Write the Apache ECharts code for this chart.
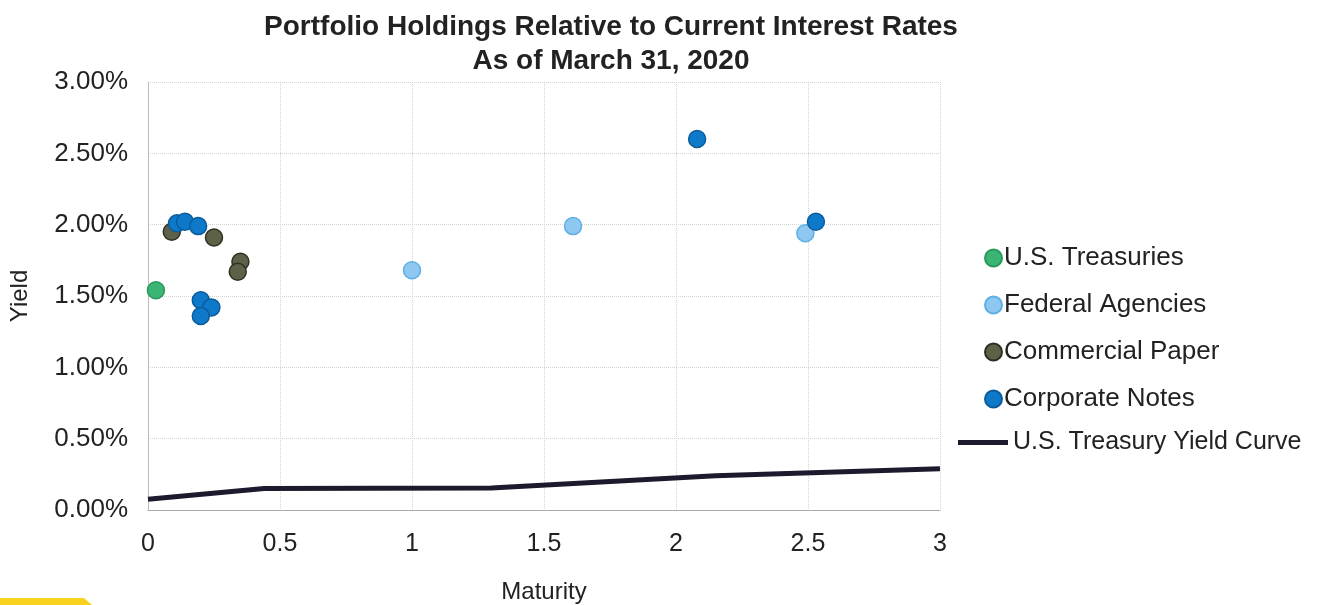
<!DOCTYPE html>
<html>
<head>
<meta charset="utf-8">
<script src="https://cdn.jsdelivr.net/npm/echarts@6/dist/echarts.min.js"></script>
<style>
  html, body { margin: 0; padding: 0; background: #fff; }
  #chart { width: 1321px; height: 605px; }
</style>
</head>
<body>
<div id="chart"></div>
<script>
// maturity (years), yield (%)
const treasuries = [[0.03, 1.54]]
const agencies = [[1.0, 1.68], [1.61, 1.99], [2.49, 1.94]]
const commercialPaper = [[0.09, 1.95], [0.25, 1.91], [0.35, 1.74], [0.34, 1.67]]
const corporateNotes = [
  [0.11, 2.01], [0.14, 2.02], [0.19, 1.99],
  [0.2, 1.47], [0.24, 1.42], [0.2, 1.36],
  [2.08, 2.6], [2.53, 2.02]
]
const yieldCurve = [[0, 0.075], [0.44, 0.15], [1.3, 0.155], [2.15, 0.24], [3, 0.29]]

const xTicks = [0, 0.5, 1, 1.5, 2, 2.5, 3]
const yTicks = [0, 0.5, 1, 1.5, 2, 2.5, 3]

const font = "Liberation Sans, Arial, sans-serif"
const chart = echarts.init(document.getElementById("chart"))

function dot(name, data, fill, border) {
  return {
    name: name,
    type: "scatter",
    data: data,
    symbol: "circle",
    symbolSize: 17,
    itemStyle: { color: fill, borderColor: border, borderWidth: 1.5, opacity: 1 },
    z: 3
  }
}

const option = {
  animation: false,
  title: {
    text: "Portfolio Holdings Relative to Current Interest Rates\nAs of March 31, 2020",
    left: 606,
    top: 5,
    textAlign: "center",
    textStyle: {
      fontFamily: "Liberation Sans Narrow, Arial Narrow, sans-serif",
      fontWeight: "bold",
      fontSize: 28,
      lineHeight: 34,
      color: "#222"
    }
  },
  grid: { left: 148, right: 381, top: 82, bottom: 95, outerBoundsMode: "none", containLabel: false },
  legend: [
    {
      orient: "vertical",
      left: 979,
      top: 240,
      itemWidth: 17,
      itemHeight: 17,
      itemGap: 21,
      data: ["U.S. Treasuries", "Federal Agencies", "Commercial Paper", "Corporate Notes"],
      textStyle: { fontFamily: font, fontSize: 26, color: "#222", padding: [0, 0, 0, -3] }
    },
    {
      left: 953,
      top: 425,
      itemWidth: 50,
      itemHeight: 5,
      data: [{ name: "U.S. Treasury Yield Curve", icon: "rect" }],
      textStyle: { fontFamily: font, fontSize: 25, color: "#222" }
    }
  ],
  xAxis: {
    type: "value",
    min: 0,
    max: 3,
    interval: 0.5,
    name: "Maturity",
    nameLocation: "middle",
    nameGap: 70,
    nameTextStyle: { fontFamily: font, fontSize: 24, color: "#222" },
    axisLine: { show: true, lineStyle: { color: "#aaa", width: 1 } },
    axisTick: { show: false },
    axisLabel: {
      fontFamily: font, fontSize: 25, color: "#222", margin: 22,
      formatter: v => xTicks.includes(v) ? String(v) : ""
    },
    splitLine: { show: true, lineStyle: { color: "#d4d4d4", type: "dotted" } }
  },
  yAxis: {
    type: "value",
    min: 0,
    max: 3,
    interval: 0.5,
    name: "Yield",
    nameLocation: "middle",
    nameGap: 116,
    nameTextStyle: { fontFamily: font, fontSize: 24, color: "#222" },
    axisLine: { show: true, lineStyle: { color: "#bbb", width: 1 } },
    axisTick: { show: false },
    axisLabel: {
      fontFamily: font, fontSize: 26, color: "#222", margin: 20,
      formatter: v => yTicks.includes(v) ? v.toFixed(2) + "%" : ""
    },
    splitLine: { show: true, lineStyle: { color: "#d4d4d4", type: "dotted" } }
  },
  series: [
    dot("U.S. Treasuries", treasuries, "#3cb474", "#2a9a5c"),
    dot("Federal Agencies", agencies, "#8ec8f0", "#5cb0e4"),
    dot("Commercial Paper", commercialPaper, "#5d6148", "#2e3022"),
    dot("Corporate Notes", corporateNotes, "#0d79c8", "#0a5c9e"),
    {
      name: "U.S. Treasury Yield Curve",
      type: "line",
      data: yieldCurve,
      symbol: "none",
      lineStyle: { color: "#1c1b2e", width: 5 },
      itemStyle: { color: "#1c1b2e" },
      z: 2
    }
  ],
  graphic: [
    {
      type: "polygon",
      shape: { points: [[0, 598], [84, 598], [92, 605], [0, 605]] },
      style: { fill: "#f8d21c" },
      silent: true
    }
  ]
}

chart.setOption(option)
window.addEventListener("resize", () => chart.resize())
</script>
</body>
</html>
